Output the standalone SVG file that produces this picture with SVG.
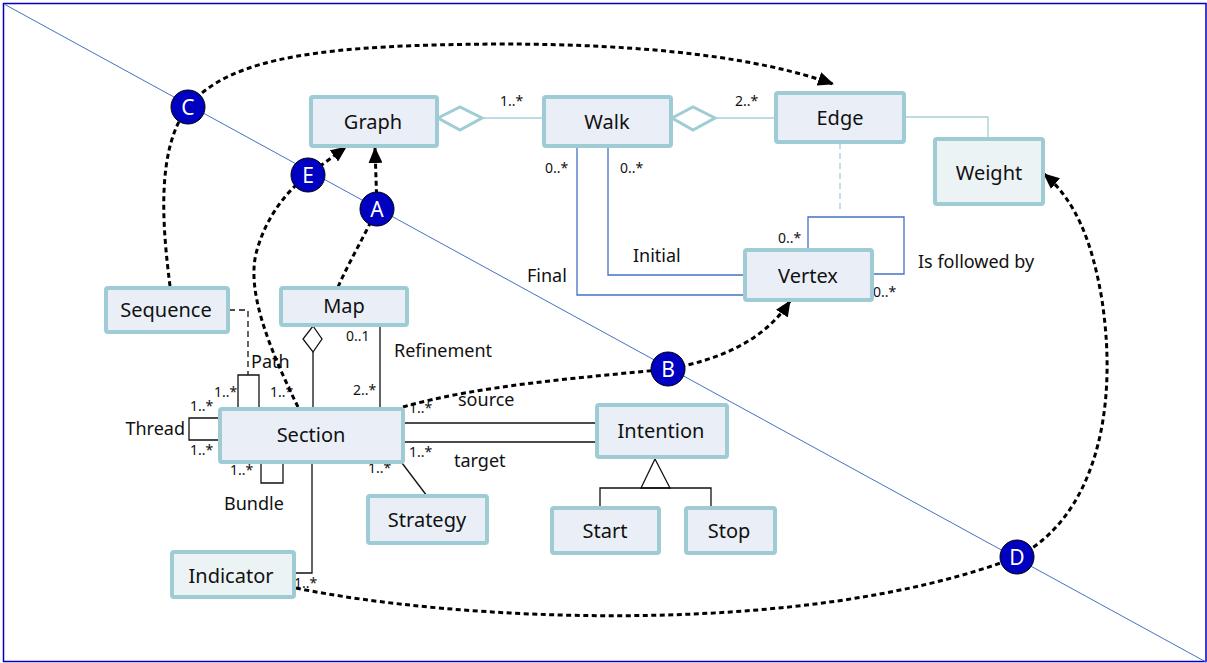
<svg xmlns="http://www.w3.org/2000/svg" width="1207" height="663" viewBox="0 0 1207 663">
<style>
.node{fill:#EAEFF7;stroke:#9FCBD4;stroke-width:4}
.node2{fill:#ECF3F5;stroke:#9FCBD4;stroke-width:4}
.nt{font-family:"Noto Sans","DejaVu Sans",sans-serif;font-size:20px;fill:#111;text-anchor:middle;dominant-baseline:central}
.lbl{font-family:"Noto Sans","DejaVu Sans",sans-serif;font-size:18px;fill:#111}
.m{font-family:"Noto Sans","DejaVu Sans",sans-serif;font-size:14px;fill:#111}
.lb{fill:none;stroke:#A6CFD8;stroke-width:1.3}
.bl{fill:none;stroke:#4472C4;stroke-width:1.3}
.k{fill:none;stroke:#111;stroke-width:1.3}
.dot{fill:none;stroke:#000;stroke-width:3;stroke-dasharray:5 3.5}
.bd{fill:#0000C0;stroke:#000;stroke-width:1}
.bt{font-family:"Noto Sans","DejaVu Sans",sans-serif;font-size:21px;fill:#fff;text-anchor:middle;dominant-baseline:central}
</style>
<defs>
<marker id="arrL" viewBox="0 0 16 14" refX="15" refY="7" markerWidth="16" markerHeight="14" markerUnits="userSpaceOnUse" orient="auto">
<path d="M0,0 L16,7 L0,14 Z" fill="#000"/>
</marker>
</defs>
<rect x="0" y="0" width="1207" height="663" fill="#fff"/>
<rect x="3.5" y="3.5" width="1202.5" height="658" fill="none" stroke="#0000C0" stroke-width="1.5"/>
<line x1="4" y1="4" x2="1206" y2="662" stroke="#4472C4" stroke-width="1"/>

<g id="connectors">
  <!-- Graph - Walk aggregation -->
  <polygon points="438,118 460,107 482,118 460,130" fill="#fff" stroke="#A0CCD5" stroke-width="3"/>
  <line class="lb" x1="482" y1="118" x2="543" y2="118"/>
  <text class="m" x="500" y="106">1..*</text>
  <!-- Walk - Edge aggregation -->
  <polygon points="672,118 693,107 715,118 693,130" fill="#fff" stroke="#A0CCD5" stroke-width="3"/>
  <line class="lb" x1="715" y1="118" x2="775" y2="118"/>
  <text class="m" x="735" y="106">2..*</text>
  <!-- Edge - Weight -->
  <polyline class="lb" points="904,117 988,117 988,138"/>
  <!-- Edge - Vertex association class dashed -->
  <line x1="840" y1="143" x2="840" y2="213" stroke="#A6CFD8" stroke-width="1.3" stroke-dasharray="6 4"/>
  <!-- Vertex self loop -->
  <polyline class="bl" points="808,249 808,217 904,217 904,274 872,274"/>
  <text class="m" x="778" y="243">0..*</text>
  <text class="m" x="873" y="297">0..*</text>
  <text class="lbl" x="918" y="268">Is followed by</text>
  <!-- Walk - Vertex initial/final -->
  <polyline class="bl" points="608,147 608,275 744,275"/>
  <polyline class="bl" points="577,147 577,295 744,295"/>
  <text class="m" x="545" y="173">0..*</text>
  <text class="m" x="620" y="173">0..*</text>
  <text class="lbl" x="633" y="262">Initial</text>
  <text class="lbl" x="527" y="282">Final</text>

  <!-- Sequence - Path dashed -->
  <polyline points="229,310 248,310 248,375" fill="none" stroke="#111" stroke-width="1.3" stroke-dasharray="6 4"/>
  <!-- Path loop -->
  <polyline class="k" points="238,408 238,375 259,375 259,408"/>
  <text class="lbl" x="251" y="368">Path</text>
  <text class="m" x="214" y="397">1..*</text>
  <text class="m" x="270" y="397">1..*</text>
  <!-- Thread loop -->
  <polyline class="k" points="219,418 189,418 189,440 219,440"/>
  <text class="lbl" x="185" y="435" text-anchor="end">Thread</text>
  <text class="m" x="190" y="411">1..*</text>
  <text class="m" x="190" y="455">1..*</text>
  <!-- Bundle loop -->
  <polyline class="k" points="261,462 261,483 283,483 283,462"/>
  <text class="m" x="230" y="475">1..*</text>
  <text class="lbl" x="224" y="510">Bundle</text>
  <!-- Map - Section aggregation -->
  <polygon points="313,326 322,339 313,352 303,339" fill="#fff" stroke="#111" stroke-width="1.3"/>
  <line class="k" x1="313" y1="352" x2="313" y2="408"/>
  <!-- Map - Section refinement -->
  <line class="k" x1="380" y1="325" x2="380" y2="408"/>
  <text class="m" x="346" y="341">0..1</text>
  <text class="m" x="353" y="395">2..*</text>
  <text class="lbl" x="394" y="357">Refinement</text>
  <!-- Section - Intention -->
  <line class="k" x1="403" y1="423" x2="596" y2="423"/>
  <line class="k" x1="403" y1="442" x2="596" y2="442"/>
  <text class="m" x="409" y="413">1..*</text>
  <text class="lbl" x="458" y="406">source</text>
  <text class="m" x="409" y="457">1..*</text>
  <text class="lbl" x="454" y="467">target</text>
  <!-- Section - Strategy -->
  <line class="k" x1="402" y1="463" x2="427" y2="496"/>
  <text class="m" x="368" y="473">1..*</text>
  <!-- Section - Indicator -->
  <polyline class="k" points="312,462 312,573 294,573"/>
  <text class="m" x="294" y="588">1..*</text>
  <!-- Generalization -->
  <polygon points="655,459 670,488 641,488" fill="#fff" stroke="#111" stroke-width="1.3"/>
  <polyline class="k" points="600,507 600,488 711,488 711,507"/>

  <!-- dotted navigation links -->
  <path class="dot" d="M170,286 C163,230 155,150 188,107 C230,55 330,45 500,44 C650,44 760,58 833,84" marker-end="url(#arrL)"/>
  <path class="dot" d="M298,407 C270,350 245,290 257,250 C267,215 288,190 308,175 L346,147" marker-end="url(#arrL)"/>
  <path class="dot" d="M338,287 C350,260 365,235 377,209 L375,148" marker-end="url(#arrL)"/>
  <path class="dot" d="M403,407 C480,385 580,378 668,369 C720,360 765,340 790,301" marker-end="url(#arrL)"/>
  <path class="dot" d="M296,588 C450,620 800,640 1017,557 C1090,520 1120,420 1102,300 C1092,240 1075,200 1044,174" marker-end="url(#arrL)"/>
</g>

<g id="badge-C"><circle class="bd" cx="188" cy="107" r="17"/><text class="bt" x="188" y="107">C</text></g>
<g id="badge-E"><circle class="bd" cx="308" cy="175" r="17"/><text class="bt" x="308" y="175">E</text></g>
<g id="badge-A"><circle class="bd" cx="377" cy="209" r="17"/><text class="bt" x="377" y="209">A</text></g>
<g id="badge-B"><circle class="bd" cx="668" cy="369" r="17"/><text class="bt" x="668" y="369">B</text></g>
<g id="badge-D"><circle class="bd" cx="1017" cy="557" r="17"/><text class="bt" x="1017" y="557">D</text></g>

<g id="graph"><rect class="node" x="311" y="97" width="126" height="49" rx="2"/><text class="nt" x="373" y="121">Graph</text></g>
<g id="walk"><rect class="node" x="544" y="97" width="127" height="49" rx="2"/><text class="nt" x="607" y="121">Walk</text></g>
<g id="edge"><rect class="node" x="776" y="93" width="128" height="49" rx="2"/><text class="nt" x="840" y="117">Edge</text></g>
<g id="weight"><rect class="node2" x="935" y="139" width="108" height="65" rx="2"/><text class="nt" x="989" y="172">Weight</text></g>
<g id="vertex"><rect class="node" x="745" y="250" width="127" height="50" rx="2"/><text class="nt" x="808" y="275">Vertex</text></g>
<g id="sequence"><rect class="node" x="106" y="288" width="122" height="44" rx="2"/><text class="nt" x="166" y="309">Sequence</text></g>
<g id="map"><rect class="node" x="281" y="288" width="126" height="37" rx="2"/><text class="nt" x="344" y="305">Map</text></g>
<g id="section"><rect class="node" x="220" y="409" width="183" height="53" rx="2"/><text class="nt" x="311" y="434">Section</text></g>
<g id="intention"><rect class="node" x="597" y="405" width="130" height="52" rx="2"/><text class="nt" x="661" y="430">Intention</text></g>
<g id="strategy"><rect class="node" x="368" y="496" width="119" height="47" rx="2"/><text class="nt" x="427" y="519">Strategy</text></g>
<g id="start"><rect class="node" x="552" y="508" width="107" height="45" rx="2"/><text class="nt" x="605" y="530">Start</text></g>
<g id="stop"><rect class="node" x="686" y="508" width="89" height="45" rx="2"/><text class="nt" x="729" y="530">Stop</text></g>
<g id="indicator"><rect class="node2" x="172" y="552" width="122" height="45" rx="2"/><text class="nt" x="231" y="575">Indicator</text></g>
</svg>
